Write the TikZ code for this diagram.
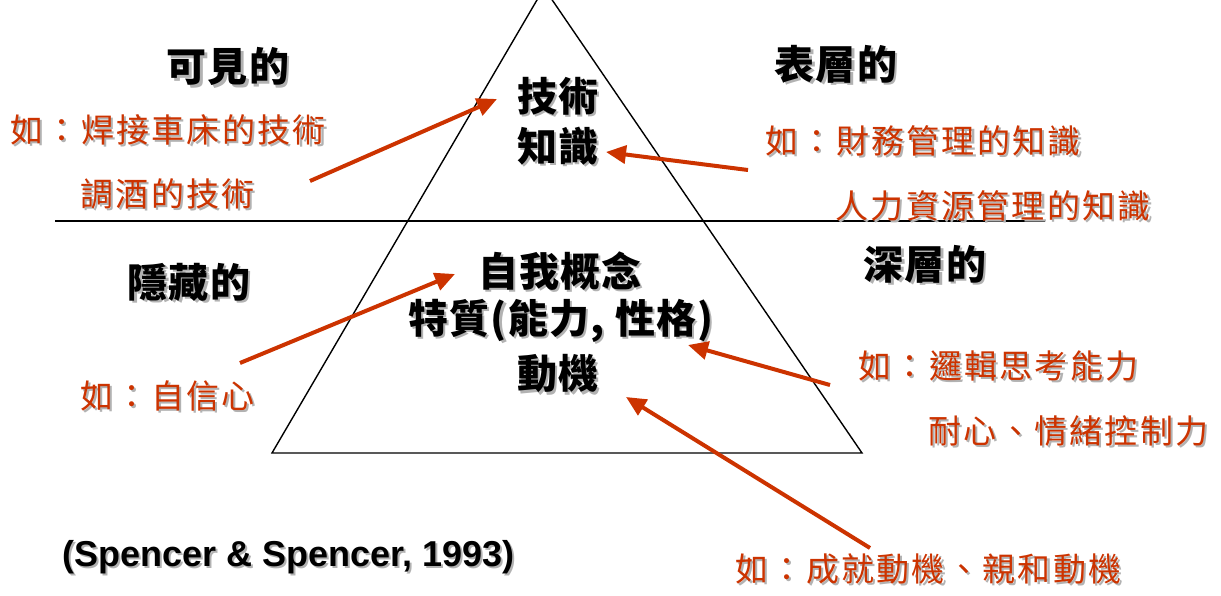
\documentclass[tikz,border=0pt]{standalone}
\usepackage{fontspec}
\usetikzlibrary{arrows.meta}
\setsansfont{Liberation Sans}
\newfontfamily\cjkred[LetterSpace=7]{Noto Sans CJK TC}
\newfontfamily\cjkhead[LetterSpace=3]{Noto Sans CJK TC}
\definecolor{arrowred}{RGB}{204,51,0}
\newcommand\shd[1]{\makebox[0pt][l]{\kern1.1pt\raisebox{-1.1pt}{\color{black!30}#1}}#1}
\tikzset{
  headtxt/.style={font=\cjkhead\bfseries\fontsize{20}{22}\selectfont, text=black, inner sep=0pt},
  coretxt/.style={font=\cjkhead\bfseries\fontsize{20}{22}\selectfont, text=black, inner sep=0pt},
  redtxt/.style={font=\cjkred\fontsize{16.5}{18}\selectfont, text=arrowred, inner sep=0pt, anchor=west},
  redarrow/.style={draw=arrowred, line width=2pt, -{Triangle[length=10pt,width=9pt]}},
  frame/.style={draw=black, line width=0.7pt}
}
\begin{document}
\begin{tikzpicture}[x=0.5pt,y=-0.5pt]
\useasboundingbox (0,0) rectangle (1221,595);
% pyramid
\begin{scope}
\clip (0,0) rectangle (1221,595);
\coordinate (apex) at (544,-12);
\coordinate (bl) at (272,453);
\coordinate (br) at (862,453);
\draw[frame] (bl) -- (apex) -- (br) -- cycle;
\end{scope}
\coordinate (hl) at (55,221);
\coordinate (hr) at (1045,221);
\draw[frame] (hl) -- (hr);
% headings
\node[headtxt] (visible) at (228,68) {\shd{可見的}};
\node[headtxt] (surface) at (836,65) {\shd{表層的}};
\node[headtxt] (hidden) at (189,283) {\shd{隱藏的}};
\node[headtxt] (deep) at (925,265) {\shd{深層的}};
% core texts
\node[coretxt] (skill) at (558,97) {\shd{技術}};
\node[coretxt] (know) at (558,147) {\shd{知識}};
\node[coretxt] (self) at (560,272) {\shd{自我概念}};
\node[coretxt] (trait) at (561,322) {\shd{特質(能力, 性格)}};
\node[coretxt] (motive) at (558,375) {\shd{動機}};
% red examples
\node[redtxt] (ex1a) at (10,131) {\shd{如：焊接車床的技術}};
\node[redtxt] (ex1b) at (80,195) {\shd{調酒的技術}};
\node[redtxt] (ex2a) at (765,142) {\shd{如：財務管理的知識}};
\node[redtxt] (ex2b) at (835,207) {\shd{人力資源管理的知識}};
\node[redtxt] (ex3) at (80,397) {\shd{如：自信心}};
\node[redtxt] (ex4a) at (858,367) {\shd{如：邏輯思考能力}};
\node[redtxt] (ex4b) at (928,432) {\shd{耐心、情緒控制力}};
\node[redtxt] (ex5) at (735,570) {\shd{如：成就動機、親和動機}};
% citation
\node[font=\sffamily\bfseries\fontsize{18}{20}\selectfont, inner sep=0pt, anchor=west] (cite) at (62,558) {\shd{(Spencer \& Spencer, 1993)}};
% arrows
\coordinate (t1) at (310,181); \coordinate (h1) at (497,99);
\coordinate (t2) at (748,170); \coordinate (h2) at (606,152);
\coordinate (t3) at (240,363); \coordinate (h3) at (455,274);
\coordinate (t4) at (830,385); \coordinate (h4) at (688,345);
\coordinate (t5) at (870,548); \coordinate (h5) at (626,397);
\draw[redarrow] (t1) -- (h1);
\draw[redarrow] (t2) -- (h2);
\draw[redarrow] (t3) -- (h3);
\draw[redarrow] (t4) -- (h4);
\draw[redarrow] (t5) -- (h5);
\end{tikzpicture}
\end{document}
